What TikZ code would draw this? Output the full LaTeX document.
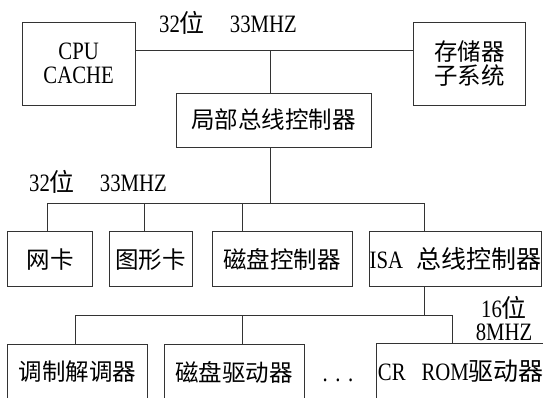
\documentclass[tikz,border=0pt]{standalone}
\usepackage{fontspec}
\setmainfont{Liberation Serif}[FakeStretch=0.83]
\newfontfamily\cjk{Noto Sans CJK SC}
\begin{document}
\begin{tikzpicture}[x=1pt,y=-1pt,
  ln/.style={draw=black!80, line width=0.8pt},
  box/.style={ln, inner sep=0pt, align=center, font=\fontsize{25}{24}\selectfont},
  cbox/.style={box, font=\cjk\fontsize{23.5}{24}\selectfont},
  lbl/.style={inner sep=0pt, align=center, font=\fontsize{25}{23.5}\selectfont}]
\useasboundingbox (0,0) rectangle (543,397);
\fill[white] (0,0) rectangle (543,397);
\begin{scope}
\clip (0,0) rectangle (543,397);
% boxes
\node[box, minimum width=112.7, minimum height=83] (cpu) at (78.65,63.8) {CPU\\CACHE};
\node[cbox, minimum width=112, minimum height=83] (mem) at (469.3,63.8) {存储器\\子系统};
\node[cbox, minimum width=195, minimum height=54] (lbc) at (273.5,120) {局部总线控制器};
\node[cbox, minimum width=84.6, minimum height=55] (nic) at (50,259.2) {网卡};
\node[cbox, minimum width=83.3, minimum height=55] (gfx) at (150.65,259.2) {图形卡};
\node[cbox, minimum width=139.7, minimum height=55] (dkc) at (282.15,259.2) {磁盘控制器};
\node[box, minimum width=167.3, minimum height=55] (isa) at (455.35,259.2) {ISA\hspace{13pt}{\cjk 总线控制器}};
\node[cbox, minimum width=139.6, minimum height=56] (modem) at (77.5,372) {调制解调器};
\node[cbox, minimum width=140, minimum height=56] (dkd) at (234,372) {磁盘驱动器};
\node[box, minimum width=168.4, minimum height=56.7] (crrom) at (460.9,371.7) {CR\hspace{16pt}ROM{\cjk 驱动器}};
% labels
\node[lbl, anchor=west] (l1) at (159,23) {32{\cjk 位}\hspace{25pt}33MHZ};
\node[lbl, anchor=west] (l2) at (29,182) {32{\cjk 位}\hspace{25pt}33MHZ};
\node[lbl] (l3) at (504,318.5) {16{\cjk 位}\\8MHZ};
\node[lbl, anchor=base] (dots) at (338,381.5) {.\hspace{7.5pt}.\hspace{7.5pt}.};
% bus 1
\coordinate (b1) at (270.7,50);
\coordinate (b2) at (270.7,203.3);
\draw[ln] (cpu.east |- b1) -- (mem.west |- b1);
\draw[ln] (b1) -- (b1 |- lbc.north);
\draw[ln] (b2 |- lbc.south) -- (b2);
% bus 2
\coordinate (d1) at (47.3,203.3);
\coordinate (d2) at (144.3,203.3);
\coordinate (d3) at (242.7,203.3);
\coordinate (d4) at (424.3,203.3);
\draw[ln] (d1) -- (d4);
\draw[ln] (d1) -- (d1 |- nic.north);
\draw[ln] (d2) -- (d2 |- gfx.north);
\draw[ln] (d3) -- (d3 |- dkc.north);
\draw[ln] (d4) -- (d4 |- isa.north);
% bus 3
\coordinate (e0) at (424.3,315);
\coordinate (e1) at (75,315);
\coordinate (e2) at (242.7,315);
\coordinate (e3) at (452.7,315);
\draw[ln] (e0 |- isa.south) -- (e0);
\draw[ln] (e1) -- (e3);
\draw[ln] (e1) -- (e1 |- modem.north);
\draw[ln] (e2) -- (e2 |- dkd.north);
\draw[ln] (e3) -- (e3 |- crrom.north);
\end{scope}
\end{tikzpicture}
\end{document}
